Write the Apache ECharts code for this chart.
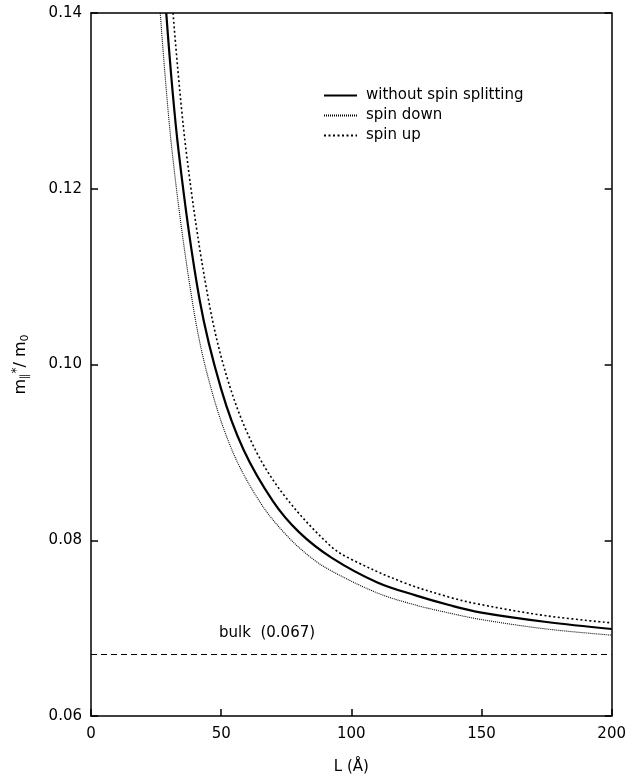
<!DOCTYPE html>
<html>
<head>
<meta charset="utf-8">
<script src="https://cdn.jsdelivr.net/npm/echarts@6/dist/echarts.min.js"></script>
<style>html,body{margin:0;padding:0;background:#fff}#c{width:629px;height:780px}</style>
</head>
<body>
<div id="c"></div>
<script>
// Data
const L_solid = [28.9, 33.6, 41.7, 50, 58.6, 70, 80, 92.5, 110, 125, 137.9, 149.4, 175, 200];
const m_solid = [0.140, 0.1244, 0.1074, 0.0972, 0.0903, 0.0844, 0.0809, 0.0780, 0.0752, 0.0737, 0.0726, 0.0718, 0.0707, 0.0699];

const L_down = [26.6, 31.1, 38.8, 45, 54.1, 65, 75, 84.2, 91.8, 110, 125, 137.9, 149.4, 175, 200];
const m_down = [0.140, 0.1244, 0.1074, 0.0985, 0.0903, 0.0843, 0.0806, 0.0781, 0.0766, 0.0740, 0.0726, 0.0717, 0.0710, 0.0699, 0.0692];

const L_up = [31.5, 36.5, 45.1, 53, 63.1, 75, 91.8, 99.5, 120, 137.9, 149.4, 175, 200];
const m_up = [0.140, 0.1244, 0.1074, 0.0978, 0.0903, 0.0848, 0.0794, 0.0779, 0.0752, 0.0735, 0.0727, 0.0714, 0.0706];

const L_bulk = [0, 200];
const m_bulk = [0.067, 0.067];

const xTicks = [0, 50, 100, 150, 200];
const yTicks = [0.06, 0.08, 0.10, 0.12, 0.14];

const seriesNames = ['without spin splitting', 'spin down', 'spin up'];
const bulkLabel = 'bulk  (0.067)';

const FONT = 'DejaVu Sans';
const zip = (a, b) => a.map((v, i) => [v, b[i]]);
const TICK = { show: true, inside: true, length: 7, lineStyle: { color: '#000', width: 1.5 } };

const chart = echarts.init(document.getElementById('c'));
chart.setOption({
  animation: false,
  backgroundColor: '#fff',
  grid: { left: 91, right: 17, top: 13, bottom: 63, containLabel: false },
  xAxis: [{
    type: 'value', min: 0, max: 200, interval: 50,
    name: 'L (Å)', nameLocation: 'middle', nameGap: 44,
    nameTextStyle: { fontFamily: FONT, fontSize: 15, color: '#000' },
    axisLine: { show: true, onZero: false, lineStyle: { color: '#000', width: 1.5 } },
    axisTick: TICK,
    axisLabel: { fontFamily: FONT, fontSize: 15, color: '#000', margin: 11,
      formatter: v => xTicks.includes(v) ? String(v) : '' },
    splitLine: { show: false }
  }, {
    type: 'value', position: 'top', min: 0, max: 200, interval: 50,
    axisLine: { show: true, onZero: false, lineStyle: { color: '#000', width: 1.5 } },
    axisTick: { show: false }, axisLabel: { show: false }, splitLine: { show: false }
  }],
  yAxis: [{
    type: 'value', min: 0.06, max: 0.14, interval: 0.02,
    name: '{m|m}{sub|∥}{sup|*}{m|/ m}{sub|0}',
    nameLocation: 'middle', nameGap: 60, nameRotate: 90,
    nameTextStyle: {
      fontFamily: FONT, color: '#000',
      rich: {
        m: { fontFamily: FONT, fontSize: 16, color: '#000', verticalAlign: 'middle' },
        sub: { fontFamily: FONT, fontSize: 11, color: '#000', verticalAlign: 'bottom', padding: [8, 0, 0, 0] },
        sup: { fontFamily: FONT, fontSize: 12, color: '#000', verticalAlign: 'top', padding: [0, 0, 8, 0] }
      }
    },
    axisLine: { show: true, onZero: false, lineStyle: { color: '#000', width: 1.5 } },
    axisTick: TICK,
    axisLabel: { fontFamily: FONT, fontSize: 15, color: '#000', margin: 9,
      formatter: v => yTicks.some(t => Math.abs(t - v) < 1e-9) ? v.toFixed(2) : '' },
    splitLine: { show: false }
  }, {
    type: 'value', position: 'right', min: 0.06, max: 0.14, interval: 0.02,
    axisLine: { show: true, onZero: false, lineStyle: { color: '#000', width: 1.5 } },
    axisTick: TICK,
    axisLabel: { show: false }, splitLine: { show: false }
  }],
  legend: {
    orient: 'vertical', left: 318, top: 83, itemWidth: 33, itemHeight: 14, itemGap: 5,
    itemStyle: { opacity: 0 },
    textStyle: { fontFamily: FONT, fontSize: 15, color: '#000', padding: [0, 0, 0, 4] },
    data: seriesNames
  },
  series: [{
    name: seriesNames[0], type: 'line', symbol: 'none', smooth: 0.35,
    data: zip(L_solid, m_solid),
    lineStyle: { color: '#000', width: 2.2, type: 'solid' }
  }, {
    name: seriesNames[1], type: 'line', symbol: 'none', smooth: 0.35,
    data: zip(L_down, m_down),
    lineStyle: { color: '#000', width: 1.1, type: [1, 1] }
  }, {
    name: seriesNames[2], type: 'line', symbol: 'none', smooth: 0.35,
    data: zip(L_up, m_up),
    lineStyle: { color: '#000', width: 1.6, type: [2, 2.5] }
  }, {
    name: 'bulk', type: 'line', symbol: 'none',
    data: zip(L_bulk, m_bulk),
    lineStyle: { color: '#000', width: 1.2, type: [6, 4] }
  }],
  graphic: [{
    type: 'text', left: 219, top: 626,
    style: { text: bulkLabel, fontFamily: FONT, fontSize: 15, fill: '#000' }
  }]
});
</script>
</body>
</html>
